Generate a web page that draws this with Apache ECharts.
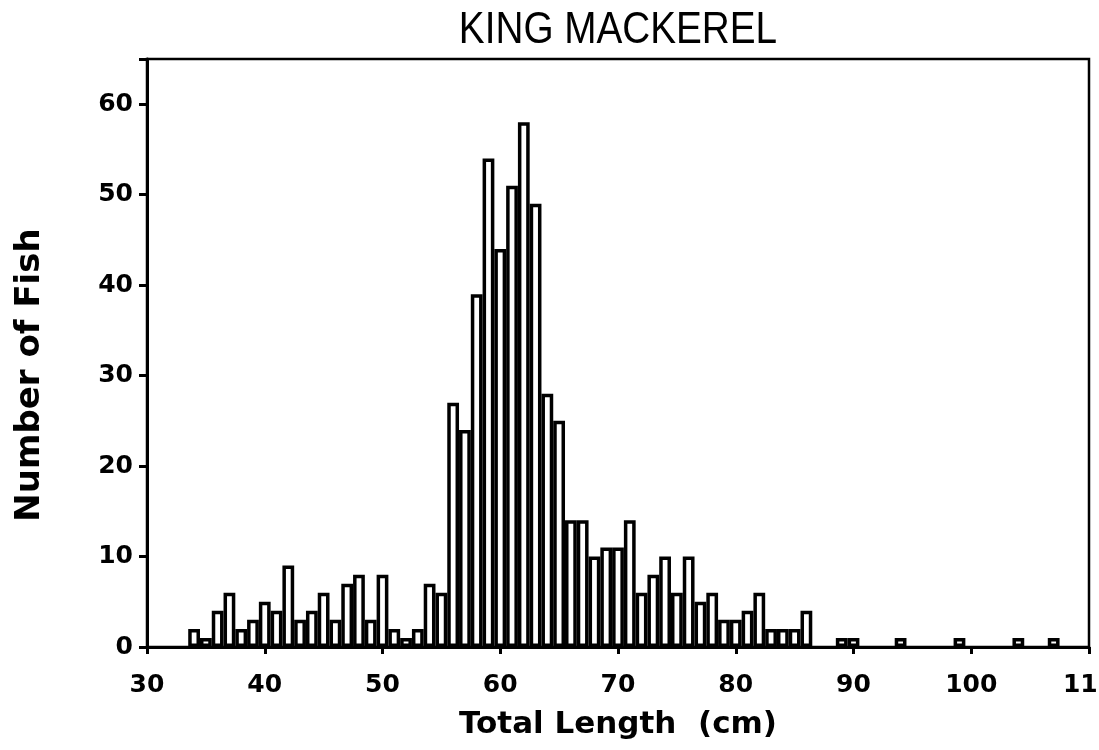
<!DOCTYPE html>
<html>
<head>
<meta charset="utf-8">
<script src="https://cdn.jsdelivr.net/npm/echarts@6/dist/echarts.min.js"></script>
<style>
html,body{margin:0;padding:0;background:#fff;}
#chart{width:1099px;height:750px;}
</style>
</head>
<body>
<div id="chart"></div>
<script>
const titleText = "KING MACKEREL";
const xAxisName = "Total Length  (cm)";
const yAxisName = "Number of Fish";
const lengths = [34,35,36,37,38,39,40,41,42,43,44,45,46,47,48,49,50,51,52,53,54,55,
  56,57,58,59,60,61,62,63,64,65,66,67,68,69,70,71,72,73,74,75,76,77,78,79,80,81,82,83,84,85,86,
  89,90,94,99,104,107];
const counts = [2,1,4,6,2,3,5,4,9,3,4,6,3,7,8,3,8,2,1,2,7,6,
  27,24,39,54,44,51,58,49,28,25,14,14,10,11,11,14,6,8,10,6,10,5,6,3,3,4,6,2,2,2,4,
  1,1,1,1,1,1];
const xTicks = [30,40,50,60,70,80,90,100,110];
const yTicks = [0,10,20,30,40,50,60];

const chart = echarts.init(document.getElementById('chart'));
const gridLeft = 147, gridRight = 10, gridTop = 59, gridBottom = 103;
const plotW = 1099 - gridLeft - gridRight;
const unitPx = plotW / (xTicks[xTicks.length-1] - xTicks[0]);

chart.setOption({
  animation: false,
  backgroundColor: '#fff',
  graphic: [{
    type: 'text',
    x: gridLeft + plotW/2,
    y: 8,
    scaleX: 0.86,
    style: {text: titleText, textAlign: 'center', textVerticalAlign: 'top',
      fontFamily: 'Liberation Sans', fontSize: 45, fill: '#000'}
  }],
  grid: {left: gridLeft, right: gridRight, top: gridTop, bottom: gridBottom, show: true, borderColor: '#000', borderWidth: 2.5,
    containLabel: false, outerBoundsMode: 'none'},
  xAxis: {
    type: 'value', min: xTicks[0], max: xTicks[xTicks.length-1], interval: 10,
    name: xAxisName, nameLocation: 'middle', nameGap: 62,
    nameTextStyle: {fontFamily: 'DejaVu Sans', fontWeight: 'bold', fontSize: 31, color: '#000'},
    axisLine: {show: true, lineStyle: {color: '#000', width: 3}},
    axisTick: {show: true, inside: false, length: 7, lineStyle: {color: '#000', width: 3}},
    axisLabel: {fontFamily: 'DejaVu Sans', fontWeight: 'bold', fontSize: 25, color: '#000', margin: 26, showMaxLabel: true},
    splitLine: {show: false}
  },
  yAxis: {
    type: 'value', min: 0, max: 65, interval: 10,
    name: yAxisName, nameLocation: 'middle', nameGap: 100, nameRotate: 90,
    nameTextStyle: {fontFamily: 'DejaVu Sans', fontWeight: 'bold', fontSize: 34, color: '#000', padding: [0, 44, 0, 0]},
    axisLine: {show: true, lineStyle: {color: '#000', width: 3}},
    axisTick: {show: true, length: 8, lineStyle: {color: '#000', width: 3}},
    axisLabel: {fontFamily: 'DejaVu Sans', fontWeight: 'bold', fontSize: 25, color: '#000', margin: 14,
      formatter: v => (yTicks.indexOf(v) >= 0 ? String(v) : '')},
    splitLine: {show: false}
  },
  series: [{
    type: 'bar',
    data: lengths.map((x, i) => [x, counts[i]]),
    barWidth: unitPx,
    itemStyle: {color: '#fff', borderColor: '#000', borderWidth: 3.5},
    silent: true
  }]
});
</script>
</body>
</html>
